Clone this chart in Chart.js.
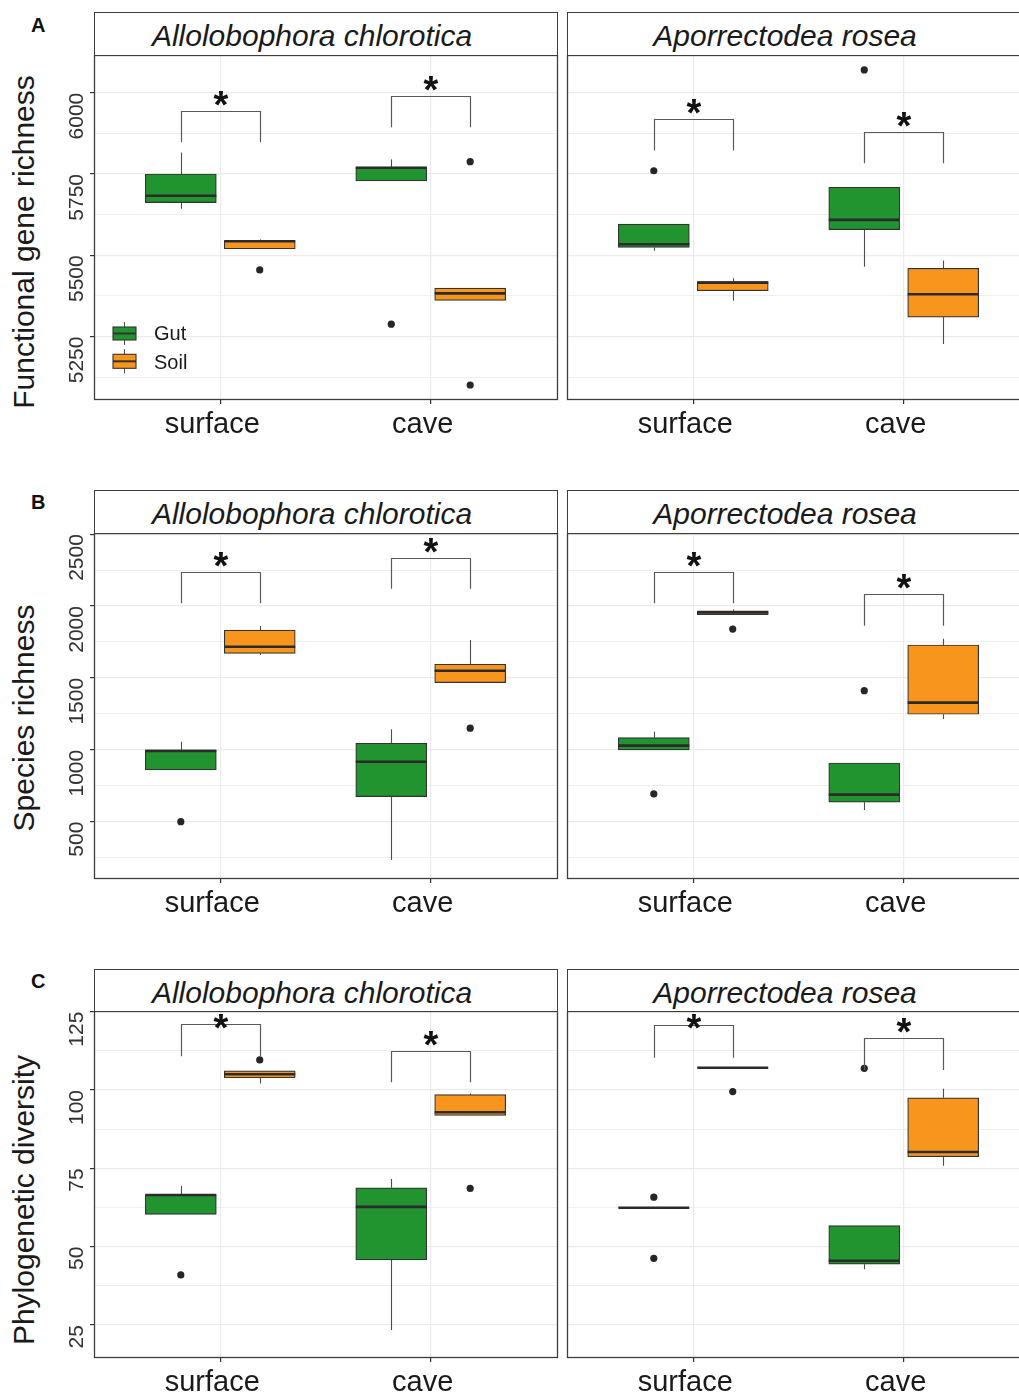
<!DOCTYPE html>
<html>
<head>
<meta charset="utf-8">
<script src="https://cdn.jsdelivr.net/npm/chart.js@4.4.0/dist/chart.umd.min.js"></script>
<style>
html, body { margin: 0; padding: 0; background: #fff; overflow: hidden; }
body { width: 1019px; height: 1394px; position: relative; font-family: 'Liberation Sans', Arial, sans-serif; }
canvas { position: absolute; }
.strip { position: absolute; box-sizing: border-box; border: 1.3px solid #3d3d3d; background: #fff; }
.strip span { position: absolute; left: 0; right: 28px; top: 8px; text-align: center; font-style: italic; font-size: 30px; line-height: 30px; color: #1a1a1a; white-space: nowrap; }
.letter { position: absolute; font-weight: bold; font-size: 20px; line-height: 20px; color: #111; }
.ytitle { position: absolute; width: 400px; height: 34px; line-height: 34px; text-align: center; font-size: 30px; color: #1a1a1a; transform: rotate(-90deg); white-space: nowrap; }
</style>
</head>
<body>
<script>
// Gut vs soil boxplots, three measures x two earthworm species
const habitats = ['surface', 'cave'];
const groups = ['Gut', 'Soil'];
const groupColors = ['#21932F', '#F8951D'];
const speciesNames = ['Allolobophora chlorotica', 'Aporrectodea rosea'];
const measureTitles = ['Functional gene richness', 'Species richness', 'Phylogenetic diversity'];
const panelLetters = ['A', 'B', 'C'];

// box stats per habitat (surface, cave): [lower whisker, Q1, median, Q3, upper whisker]
// A - functional gene richness
const funcChloroGut  = [[5643, 5662, 5683, 5750, 5816], [5729, 5729, 5769, 5771, 5795]];
const funcChloroSoil = [[5520, 5520, 5543, 5545, 5549], [5361, 5361, 5383, 5399, 5399]];
const funcRoseaGut   = [[5514, 5524, 5534, 5596, 5596], [5465, 5579, 5609, 5709, 5709]];
const funcRoseaSoil  = [[5360, 5391, 5416, 5419, 5429], [5227, 5310, 5380, 5460, 5484]];
const funcChloroGutOut  = [[], [5288]];
const funcChloroSoilOut = [[5455], [5788, 5101]];
const funcRoseaGutOut   = [[5760], [6070]];
const funcRoseaSoilOut  = [[], []];
// significance brackets per habitat: [bar level, leg end]
const funcChloroSig = [[5945, 5848], [5989, 5894]];
const funcRoseaSig  = [[5918, 5822], [5880, 5783]];
const funcTicks = [5250, 5500, 5750, 6000];
const funcRange = [5058, 6116];

// B - species richness
const richChloroGut  = [[860, 860, 992, 999, 1056], [234, 674, 917, 1045, 1143]];
const richChloroSoil = [[1659, 1671, 1717, 1833, 1861], [1467, 1467, 1550, 1595, 1764]];
const richRoseaGut   = [[999, 999, 1029, 1084, 1126], [581, 635, 688, 908, 908]];
const richRoseaSoil  = [[1940, 1940, 1956, 1967, 1977], [1214, 1247, 1328, 1729, 1773]];
const richChloroGutOut  = [[500], []];
const richChloroSoilOut = [[], [1150]];
const richRoseaGutOut   = [[693], [1411]];
const richRoseaSoilOut  = [[1840], []];
const richChloroSig = [[2236, 2019], [2336, 2120]];
const richRoseaSig  = [[2236, 2019], [2081, 1863]];
const richTicks = [500, 1000, 1500, 2000, 2500];
const richRange = [108, 2508];

// C - phylogenetic diversity
const phyloChloroGut  = [[60.3, 60.3, 66.5, 66.5, 69.4], [23.4, 45.8, 62.7, 68.8, 71.6]];
const phyloChloroSoil = [[102.1, 103.9, 105.0, 106.1, 106.1], [91.9, 91.9, 92.9, 98.5, 98.9]];
const phyloRoseaGut   = [[62.4, 62.4, 62.4, 62.4, 62.4], [42.8, 44.4, 45.5, 56.7, 56.7]];
const phyloRoseaSoil  = [[107.1, 107.1, 107.1, 107.1, 107.1], [75.8, 78.7, 80.2, 97.5, 100.4]];
const phyloChloroGutOut  = [[41.0], []];
const phyloChloroSoilOut = [[109.6], [68.6]];
const phyloRoseaGutOut   = [[65.8, 46.3], [106.9]];
const phyloRoseaSoilOut  = [[99.5], []];
const phyloChloroSig = [[121.0, 110.8], [112.5, 102.5]];
const phyloRoseaSig  = [[120.6, 110.3], [116.5, 106.4]];
const phyloTicks = [25, 50, 75, 100, 125];
const phyloRange = [14.8, 125.2];

const measures = [
  { ticks: funcTicks, range: funcRange, panels: [
    { boxes: [funcChloroGut, funcChloroSoil], out: [funcChloroGutOut, funcChloroSoilOut], sig: funcChloroSig },
    { boxes: [funcRoseaGut, funcRoseaSoil], out: [funcRoseaGutOut, funcRoseaSoilOut], sig: funcRoseaSig }] },
  { ticks: richTicks, range: richRange, panels: [
    { boxes: [richChloroGut, richChloroSoil], out: [richChloroGutOut, richChloroSoilOut], sig: richChloroSig },
    { boxes: [richRoseaGut, richRoseaSoil], out: [richRoseaGutOut, richRoseaSoilOut], sig: richRoseaSig }] },
  { ticks: phyloTicks, range: phyloRange, panels: [
    { boxes: [phyloChloroGut, phyloChloroSoil], out: [phyloChloroGutOut, phyloChloroSoilOut], sig: phyloChloroSig },
    { boxes: [phyloRoseaGut, phyloRoseaSoil], out: [phyloRoseaGutOut, phyloRoseaSoilOut], sig: phyloRoseaSig }] }
];

// layout
const FONT = "'Liberation Sans', Arial, sans-serif";
const PANEL_W = 463;
const panelLefts = [94, 567];
const rowGeom = [
  { stripTop: 12, plotTop: 55, plotBottom: 399, titleY: 242, letterY: 15 },
  { stripTop: 490, plotTop: 533, plotBottom: 878, titleY: 718, letterY: 492 },
  { stripTop: 969, plotTop: 1011, plotBottom: 1357, titleY: 1200, letterY: 971 }
];
const PAD_TOP = 30, XAXIS_H = 50;
const DODGE = 0.1875;

Chart.defaults.font.family = FONT;

function groupX(h, g) {
  return h + 1 + (g ? DODGE : -DODGE);
}

function gridValues(ticks, range) {
  const half = (ticks[1] - ticks[0]) / 2;
  const vals = [];
  for (let v = Math.ceil(range[0] / half) * half; v <= range[1] + 1e-9; v += half) vals.push(+v.toFixed(3));
  return vals;
}

function makeBoxPlugin(p, withLegend) {
  return {
    id: 'boxParts',
    beforeDatasetsDraw(chart) {
      // whiskers go under the boxes
      const { ctx, scales: { x, y } } = chart;
      ctx.save();
      ctx.strokeStyle = '#4d4d4d';
      ctx.lineWidth = 1.1;
      p.boxes.forEach((series, g) => series.forEach((b, h) => {
        const px = Math.round(x.getPixelForValue(groupX(h, g))) + 0.5;
        ctx.beginPath();
        ctx.moveTo(px, y.getPixelForValue(b[0]));
        ctx.lineTo(px, y.getPixelForValue(b[1]));
        ctx.moveTo(px, y.getPixelForValue(b[3]));
        ctx.lineTo(px, y.getPixelForValue(b[4]));
        ctx.stroke();
      }));
      ctx.restore();
    },
    afterDatasetsDraw(chart) {
      const { ctx, scales: { x, y }, chartArea } = chart;
      ctx.save();
      // medians
      ctx.strokeStyle = '#2b2b2b';
      ctx.lineWidth = 2.6;
      p.boxes.forEach((series, g) => {
        const meta = chart.getDatasetMeta(g);
        series.forEach((b, h) => {
          const el = meta.data[h];
          const { x: cx, width } = el.getProps(['x', 'width'], true);
          const py = y.getPixelForValue(b[2]);
          ctx.beginPath();
          ctx.moveTo(cx - width / 2, py);
          ctx.lineTo(cx + width / 2, py);
          ctx.stroke();
        });
      });
      // significance brackets
      ctx.strokeStyle = '#5a5a5a';
      ctx.lineWidth = 1.2;
      ctx.fillStyle = '#111';
      ctx.font = 'bold 38px ' + FONT;
      ctx.textAlign = 'center';
      const m = ctx.measureText('*');
      const starOff = (m.actualBoundingBoxAscent - m.actualBoundingBoxDescent) / 2;
      p.sig.forEach((s, h) => {
        const xl = Math.round(x.getPixelForValue(groupX(h, 0))) + 0.5;
        const xr = Math.round(x.getPixelForValue(groupX(h, 1))) + 0.5;
        const yt = Math.round(y.getPixelForValue(s[0])) + 0.5;
        const yb = y.getPixelForValue(s[1]);
        ctx.beginPath();
        ctx.moveTo(xl, yb);
        ctx.lineTo(xl, yt);
        ctx.lineTo(xr, yt);
        ctx.lineTo(xr, yb);
        ctx.stroke();
        const sy = Math.max(yt - 13, chartArea.top + 10);
        ctx.fillText('*', (xl + xr) / 2, sy + starOff);
      });
      ctx.restore();
    },
    afterDraw(chart) {
      const { ctx, chartArea: a } = chart;
      ctx.save();
      ctx.strokeStyle = '#3d3d3d';
      ctx.lineWidth = 1.3;
      ctx.strokeRect(Math.round(a.left) + 0.5, Math.round(a.top) + 0.5, Math.round(a.right - a.left), Math.round(a.bottom - a.top));
      if (withLegend) {
        const keys = [[-72, -59, -65], [-44.7, -30.7, -36]];
        const kx = a.left + 19, kw = 23;
        keys.forEach((k, g) => {
          const top = a.bottom + k[0], bot = a.bottom + k[1];
          ctx.strokeStyle = '#4d4d4d';
          ctx.lineWidth = 1;
          ctx.beginPath();
          ctx.moveTo(kx + kw / 2, top - 5);
          ctx.lineTo(kx + kw / 2, bot + 5);
          ctx.stroke();
          ctx.fillStyle = groupColors[g];
          ctx.fillRect(kx, top, kw, bot - top);
          ctx.strokeStyle = '#333';
          ctx.lineWidth = 1.1;
          ctx.strokeRect(kx, top, kw, bot - top);
          ctx.lineWidth = 2;
          ctx.beginPath();
          ctx.moveTo(kx, (top + bot) / 2);
          ctx.lineTo(kx + kw, (top + bot) / 2);
          ctx.stroke();
          ctx.fillStyle = '#1a1a1a';
          ctx.font = '20px ' + FONT;
          ctx.textAlign = 'left';
          ctx.textBaseline = 'middle';
          ctx.fillText(groups[g], a.left + 60, a.bottom + k[2]);
        });
      }
      ctx.restore();
    }
  };
}

function makePanel(r, c) {
  const geo = rowGeom[r];
  const meas = measures[r];
  const p = meas.panels[c];
  const isLeft = c === 0;
  const padL = isLeft ? 60 : 5;
  const axisW = isLeft ? panelLefts[0] - padL : 0;
  const canvasLeft = isLeft ? 0 : panelLefts[1] - padL;
  const width = panelLefts[c] + PANEL_W + 5 - canvasLeft;
  const height = PAD_TOP + (geo.plotBottom - geo.plotTop) + XAXIS_H;

  const canvas = document.createElement('canvas');
  canvas.width = width;
  canvas.height = height;
  canvas.style.left = canvasLeft + 'px';
  canvas.style.top = (geo.plotTop - PAD_TOP) + 'px';
  canvas.style.width = width + 'px';
  canvas.style.height = height + 'px';
  document.body.appendChild(canvas);

  const gridVals = gridValues(meas.ticks, meas.range);
  const isMajor = v => meas.ticks.some(t => Math.abs(t - v) < 1e-6);

  const datasets = [0, 1].map(g => ({
    type: 'bar',
    label: groups[g],
    data: p.boxes[g].map((b, h) => ({ x: groupX(h, g), y: [b[1], b[3]] })),
    backgroundColor: groupColors[g],
    borderColor: '#333',
    borderWidth: 1.2,
    borderSkipped: false,
    barThickness: 71,
    grouped: false
  }));
  const outliers = [];
  p.out.forEach((series, g) => series.forEach((vals, h) => vals.forEach(v => outliers.push({ x: groupX(h, g), y: v }))));
  datasets.push({
    type: 'scatter',
    label: 'outliers',
    data: outliers,
    pointRadius: 3.6,
    pointBackgroundColor: '#262626',
    pointBorderWidth: 0
  });

  new Chart(canvas, {
    type: 'bar',
    data: { datasets },
    options: {
      responsive: false,
      animation: false,
      devicePixelRatio: 1,
      events: [],
      layout: { padding: { top: PAD_TOP, bottom: 0, left: padL, right: 5 } },
      plugins: { legend: { display: false }, tooltip: { enabled: false } },
      scales: {
        x: {
          type: 'linear',
          min: 0.4,
          max: 2.6,
          offset: false,
          afterBuildTicks: s => { s.ticks = habitats.map((_, i) => ({ value: i + 1 })); },
          afterFit: s => { s.height = XAXIS_H; },
          grid: { offset: false, color: '#ebebeb', lineWidth: 1.2, drawTicks: true, tickLength: 5, tickColor: '#333' },
          border: { display: false },
          ticks: {
            autoSkip: false, minRotation: 0, maxRotation: 0, padding: 4, labelOffset: -8,
            color: '#1a1a1a', font: { size: 29 },
            callback: v => habitats[Math.round(v) - 1]
          }
        },
        y: {
          type: 'linear',
          min: meas.range[0],
          max: meas.range[1],
          afterBuildTicks: s => { s.ticks = gridVals.map(v => ({ value: v })); },
          afterFit: s => { s.width = axisW; },
          grid: {
            color: '#ebebeb',
            lineWidth: ctx => isMajor(ctx.tick.value) ? 1.2 : 0.8,
            drawTicks: isLeft,
            tickLength: 4,
            tickColor: ctx => isMajor(ctx.tick.value) ? '#333' : 'rgba(0,0,0,0)'
          },
          border: { display: false },
          ticks: {
            display: isLeft, autoSkip: false, minRotation: 90, maxRotation: 90, padding: 13,
            color: '#333', font: { size: 21 },
            callback: v => isMajor(v) ? String(v) : ''
          }
        }
      }
    },
    plugins: [makeBoxPlugin(p, r === 0 && c === 0)]
  });

  const strip = document.createElement('div');
  strip.className = 'strip';
  strip.style.left = panelLefts[c] + 'px';
  strip.style.top = geo.stripTop + 'px';
  strip.style.width = (PANEL_W + 1) + 'px';
  strip.style.height = (geo.plotTop - geo.stripTop + 1) + 'px';
  const span = document.createElement('span');
  span.textContent = speciesNames[c];
  strip.appendChild(span);
  document.body.appendChild(strip);
}

rowGeom.forEach((geo, r) => {
  const letter = document.createElement('div');
  letter.className = 'letter';
  letter.textContent = panelLetters[r];
  letter.style.left = '31px';
  letter.style.top = geo.letterY + 'px';
  document.body.appendChild(letter);

  const title = document.createElement('div');
  title.className = 'ytitle';
  title.textContent = measureTitles[r];
  title.style.left = (24 - 200) + 'px';
  title.style.top = (geo.titleY - 17) + 'px';
  document.body.appendChild(title);

  makePanel(r, 0);
  makePanel(r, 1);
});
</script>
</body>
</html>
